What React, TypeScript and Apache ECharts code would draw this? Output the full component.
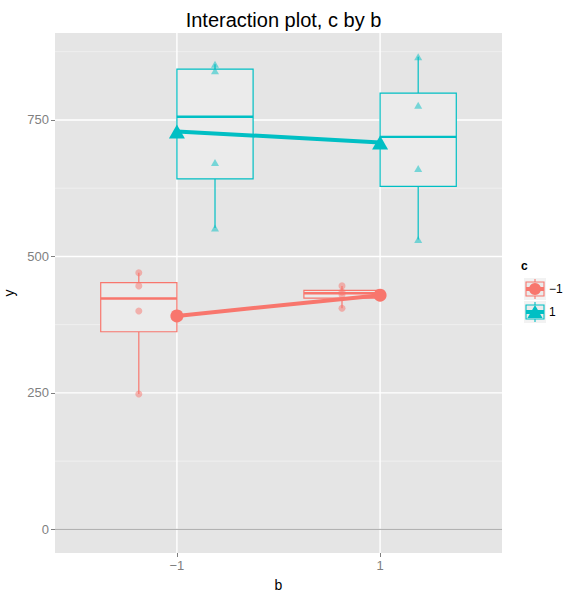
import React, { useEffect, useRef } from "react";
import * as echarts from "echarts";

// ---- data ----
const bLevels = [-1, 1];
const cLabels = ["\u22121", "1"];
const redValuesBm1 = [248, 400, 446, 470];
const redValuesB1 = [405, 430, 435, 446];
const cyanValuesBm1 = [552, 672, 840, 852];
const cyanValuesB1 = [531, 661, 777, 866];
const yMajorTicks = [0, 250, 500, 750];
const yMinorTicks = [125, 375, 625, 875];
const xTicks = [-1, 1];
const zeroLine = [0];

const RED = "#F8766D";
const CYAN = "#00BFC4";
const XMIN = -2.2;
const XMAX = 2.2;
const YMIN = -43.3;
const YMAX = 909.3;
const DODGE = 0.375;
const BOX_W = 0.75;

function quantile(sorted: number[], p: number) {
  const h = (sorted.length - 1) * p;
  const lo = Math.floor(h);
  const hi = Math.ceil(h);
  return sorted[lo] + (h - lo) * (sorted[hi] - sorted[lo]);
}

function boxStats(x: number, vals: number[]) {
  const s = [...vals].sort((a, b) => a - b);
  const q1 = quantile(s, 0.25);
  const med = quantile(s, 0.5);
  const q3 = quantile(s, 0.75);
  const iqr = q3 - q1;
  const inside = s.filter((v) => v >= q1 - 1.5 * iqr && v <= q3 + 1.5 * iqr);
  return [x, inside[0], q1, med, q3, inside[inside.length - 1]];
}

const mean = (v: number[]) => v.reduce((a, b) => a + b, 0) / v.length;

function boxRenderer(color: string) {
  return (params: any, api: any) => {
    const xc = api.value(0);
    const lo = api.value(1);
    const q1 = api.value(2);
    const med = api.value(3);
    const q3 = api.value(4);
    const hi = api.value(5);
    const tl = api.coord([xc - BOX_W / 2, q3]);
    const br = api.coord([xc + BOX_W / 2, q1]);
    const c = api.coord([xc, med]);
    const pHi = api.coord([xc, hi]);
    const pLo = api.coord([xc, lo]);
    return {
      type: "group",
      children: [
        { type: "line", shape: { x1: c[0], y1: pHi[1], x2: c[0], y2: tl[1] }, style: { stroke: color, lineWidth: 1.2 } },
        { type: "line", shape: { x1: c[0], y1: br[1], x2: c[0], y2: pLo[1] }, style: { stroke: color, lineWidth: 1.2 } },
        {
          type: "rect",
          shape: { x: tl[0], y: tl[1], width: br[0] - tl[0], height: br[1] - tl[1] },
          style: { fill: "#EBEBEB", stroke: color, lineWidth: 1.2 },
        },
        { type: "line", shape: { x1: tl[0], y1: c[1], x2: br[0], y2: c[1] }, style: { stroke: color, lineWidth: 2.4 } },
      ],
    };
  };
}

function hLineRenderer(color: string, width: number) {
  return (params: any, api: any) => {
    const v = api.value(0);
    const a = api.coord([XMIN, v]);
    const b = api.coord([XMAX, v]);
    return { type: "line", shape: { x1: a[0], y1: a[1], x2: b[0], y2: b[1] }, style: { stroke: color, lineWidth: width } };
  };
}

function vLineRenderer(color: string, width: number) {
  return (params: any, api: any) => {
    const v = api.value(0);
    const a = api.coord([v, YMIN]);
    const b = api.coord([v, YMAX]);
    return { type: "line", shape: { x1: a[0], y1: a[1], x2: b[0], y2: b[1] }, style: { stroke: color, lineWidth: width } };
  };
}

function legendKey(cy: number, color: string, symbol: "circle" | "triangle") {
  const cx = 535;
  const children: any[] = [
    { type: "rect", shape: { x: 524, y: cy - 11, width: 22, height: 22 }, style: { fill: "#F2F2F2" } },
    { type: "line", shape: { x1: cx, y1: cy - 10, x2: cx, y2: cy - 7 }, style: { stroke: color, lineWidth: 1.1 } },
    { type: "line", shape: { x1: cx, y1: cy + 7, x2: cx, y2: cy + 10 }, style: { stroke: color, lineWidth: 1.1 } },
    { type: "rect", shape: { x: 526, y: cy - 7, width: 18, height: 14 }, style: { fill: "#EBEBEB", stroke: color, lineWidth: 1.1 } },
    { type: "line", shape: { x1: 526, y1: cy, x2: 544, y2: cy }, style: { stroke: color, lineWidth: 4 } },
  ];
  if (symbol === "circle") {
    children.push({ type: "circle", shape: { cx, cy, r: 6 }, style: { fill: color } });
  } else {
    children.push({
      type: "polygon",
      shape: { points: [[cx, cy - 7], [cx - 7.5, cy + 6], [cx + 7.5, cy + 6]] },
      style: { fill: color },
    });
  }
  return { type: "group", children };
}

export default function App() {
  const ref = useRef<HTMLDivElement>(null);
  useEffect(() => {
    if (!ref.current) return;
    const chart = echarts.init(ref.current, undefined, { renderer: "svg" });
    const redBoxes = [boxStats(bLevels[0] - DODGE, redValuesBm1), boxStats(bLevels[1] - DODGE, redValuesB1)];
    const cyanBoxes = [boxStats(bLevels[0] + DODGE, cyanValuesBm1), boxStats(bLevels[1] + DODGE, cyanValuesB1)];
    const redPts = [
      ...redValuesBm1.map((v) => [bLevels[0] - DODGE, v]),
      ...redValuesB1.map((v) => [bLevels[1] - DODGE, v]),
    ];
    const cyanPts = [
      ...cyanValuesBm1.map((v) => [bLevels[0] + DODGE, v]),
      ...cyanValuesB1.map((v) => [bLevels[1] + DODGE, v]),
    ];
    const redMeans = [[bLevels[0], mean(redValuesBm1)], [bLevels[1], mean(redValuesB1)]];
    const cyanMeans = [[bLevels[0], mean(cyanValuesBm1)], [bLevels[1], mean(cyanValuesB1)]];

    const option: any = {
      animation: false,
      backgroundColor: "#FFFFFF",
      title: {
        text: "Interaction plot, c by b",
        left: 278.5,
        top: 5,
        textAlign: "center",
        textStyle: { fontFamily: "Liberation Sans", fontSize: 20, fontWeight: "normal", color: "#000000" },
      },
      grid: {
        left: 55,
        right: 64,
        top: 33,
        bottom: 44,
        show: true,
        backgroundColor: "#E5E5E5",
        borderWidth: 0,
        containLabel: false,
        outerBoundsMode: "none",
      },
      xAxis: {
        type: "value",
        min: XMIN,
        max: XMAX,
        name: "b",
        nameLocation: "middle",
        nameGap: 25,
        nameTextStyle: { fontFamily: "Liberation Sans", fontSize: 14, color: "#000000" },
        axisLine: { show: false, onZero: false },
        splitLine: { show: false },
        axisTick: { show: true, length: 4, customValues: xTicks, lineStyle: { color: "#7F7F7F" } },
        axisLabel: {
          customValues: xTicks,
          color: "#7F7F7F",
          fontFamily: "Liberation Sans",
          fontSize: 13,
          margin: 6,
          formatter: (v: number) => (v < 0 ? "\u2212" + Math.abs(v) : String(v)),
        },
      },
      yAxis: {
        type: "value",
        min: YMIN,
        max: YMAX,
        name: "y",
        nameLocation: "middle",
        nameGap: 38,
        nameTextStyle: { fontFamily: "Liberation Sans", fontSize: 14, color: "#000000" },
        axisLine: { show: false, onZero: false },
        splitLine: { show: false },
        axisTick: { show: true, length: 4, customValues: yMajorTicks, lineStyle: { color: "#7F7F7F" } },
        axisLabel: {
          customValues: yMajorTicks,
          color: "#7F7F7F",
          fontFamily: "Liberation Sans",
          fontSize: 13,
          margin: 6,
        },
      },
      graphic: [
        {
          type: "text",
          x: 521,
          y: 266,
          style: { text: "c", fontFamily: "Liberation Sans", fontSize: 12, fontWeight: "bold", fill: "#000", verticalAlign: "middle" },
        },
        legendKey(289, RED, "circle"),
        legendKey(312, CYAN, "triangle"),
        {
          type: "text",
          x: 549,
          y: 289,
          style: { text: cLabels[0], fontFamily: "Liberation Sans", fontSize: 12, fill: "#000", verticalAlign: "middle" },
        },
        {
          type: "text",
          x: 549,
          y: 312,
          style: { text: cLabels[1], fontFamily: "Liberation Sans", fontSize: 12, fill: "#000", verticalAlign: "middle" },
        },
      ],
      series: [
        { type: "custom", z: 1, silent: true, encode: { y: 0 }, data: yMinorTicks.map((v) => [v]), renderItem: hLineRenderer("#F2F2F2", 0.8) },
        { type: "custom", z: 1, silent: true, encode: { y: 0 }, data: yMajorTicks.map((v) => [v]), renderItem: hLineRenderer("#FFFFFF", 1.4) },
        { type: "custom", z: 1, silent: true, encode: { x: 0 }, data: xTicks.map((v) => [v]), renderItem: vLineRenderer("#FFFFFF", 1.4) },
        { type: "custom", z: 2, silent: true, encode: { y: 0 }, data: zeroLine.map((v) => [v]), renderItem: hLineRenderer("#A6A6A6", 1) },
        { type: "custom", z: 3, encode: { x: 0, y: [1, 2, 3, 4, 5] }, data: redBoxes, renderItem: boxRenderer(RED) },
        { type: "custom", z: 3, encode: { x: 0, y: [1, 2, 3, 4, 5] }, data: cyanBoxes, renderItem: boxRenderer(CYAN) },
        { type: "scatter", z: 4, symbol: "circle", symbolSize: 7, itemStyle: { color: RED, opacity: 0.5 }, data: redPts },
        { type: "scatter", z: 4, symbol: "triangle", symbolSize: [8, 7], itemStyle: { color: CYAN, opacity: 0.5 }, data: cyanPts },
        {
          type: "line", z: 5, data: redMeans, symbol: "circle", symbolSize: 13,
          lineStyle: { color: RED, width: 4 }, itemStyle: { color: RED },
        },
        {
          type: "line", z: 5, data: cyanMeans, symbol: "triangle", symbolSize: [16, 14],
          lineStyle: { color: CYAN, width: 4 }, itemStyle: { color: CYAN },
        },
      ],
    };
    chart.setOption(option);
    return () => chart.dispose();
  }, []);
  return <div ref={ref} style={{ position: "fixed", left: 0, top: 0, width: 566, height: 597 }} />;
}
